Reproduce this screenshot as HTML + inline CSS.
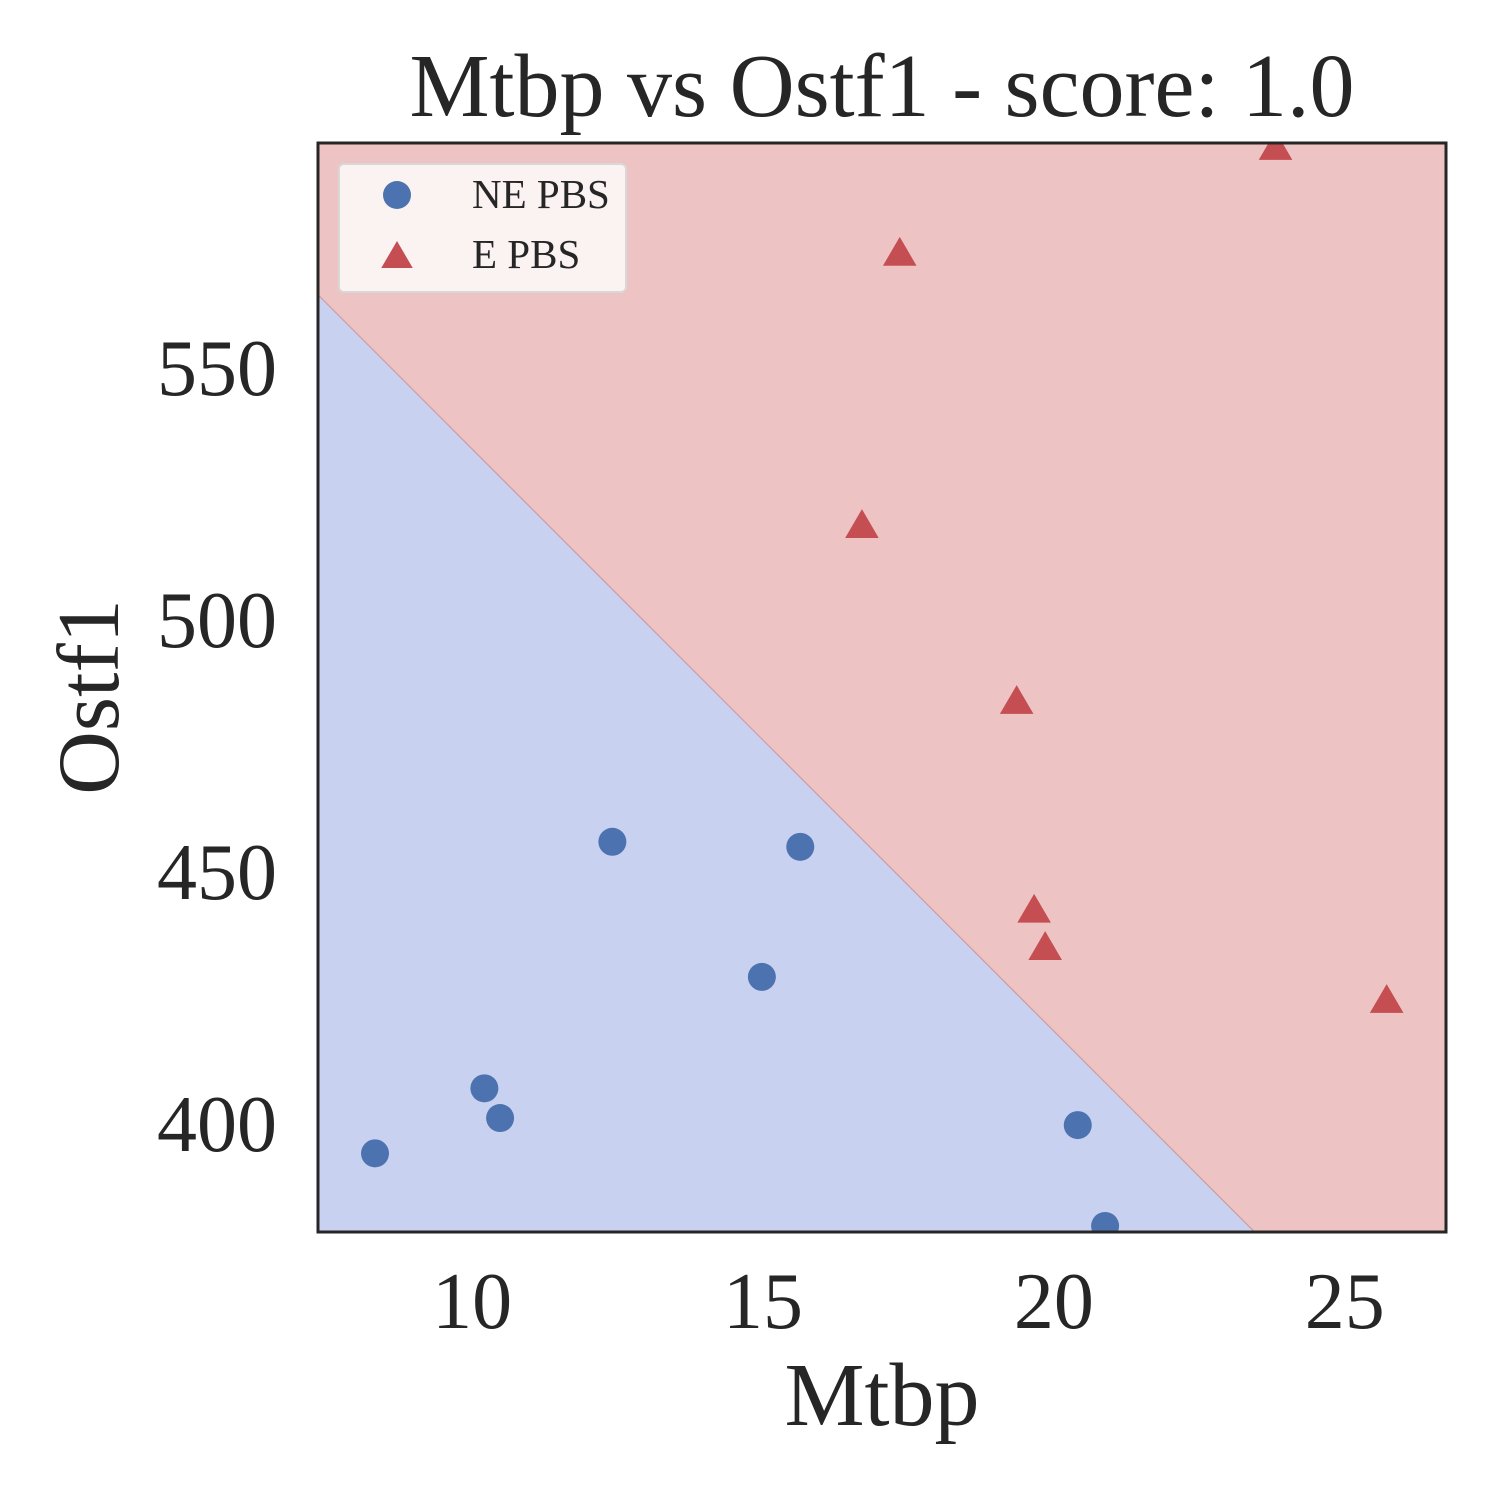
<!DOCTYPE html>
<html><head><meta charset="utf-8"><style>
html,body{margin:0;padding:0;background:#fff;}
svg{display:block;font-family:"Liberation Serif","DejaVu Serif",serif;}
</style></head><body>
<svg id="chart" width="1500" height="1500" viewBox="0 0 1500 1500" xmlns="http://www.w3.org/2000/svg"></svg>
<script>
const neX = [8.33, 10.21, 10.48, 12.41, 14.98, 15.64, 20.41, 20.88];
const neY = [394.2, 407.1, 401.2, 456.0, 429.2, 455.0, 399.8, 379.8];
const eX = [23.81, 17.35, 16.70, 19.36, 19.66, 19.85, 25.72];
const eY = [593.8, 572.8, 518.8, 483.9, 442.5, 435.1, 424.6];
const boundaryX = [7.35, 23.45];
const boundaryY = [564.5, 378.6];
const xTicks = [10, 15, 20, 25];
const yTicks = [400, 450, 500, 550];

const L=318,R=1446,T=143,B=1232;
const xMin=7.35,xMax=26.74,yMin=378.6,yMax=594.6;
const sx=v=>L+(v-xMin)/(xMax-xMin)*(R-L);
const sy=v=>B-(v-yMin)/(yMax-yMin)*(B-T);
const NS="http://www.w3.org/2000/svg";
const svg=document.getElementById('chart');
function mk(tag,attrs,parent){const e=document.createElementNS(NS,tag);for(const k in attrs)e.setAttribute(k,attrs[k]);(parent||svg).appendChild(e);return e;}

const defs=mk('defs',{});
const cp=mk('clipPath',{id:'clip'},defs);
mk('rect',{x:L,y:T,width:R-L,height:B-T},cp);

const g=mk('g',{'clip-path':'url(#clip)'});
const redBg=mk('rect',{x:L,y:T,width:R-L,height:B-T,fill:'#edc4c3'},g);


const x0=sx(boundaryX[0]),y0=sy(boundaryY[0]),x1=sx(boundaryX[1]),y1=sy(boundaryY[1]);
const blue=mk('polygon',{points:`${L},${B} ${L},${y0} ${x0},${y0} ${x1},${y1} ${x1},${B}`,fill:'#c9d1f0'},g);


const bl=mk('line',{x1:x0,y1:y0,x2:x1,y2:y1,stroke:'#d09aa0','stroke-width':1.2},g);



for(let i=0;i<neX.length;i++){
  const c=mk('circle',{cx:sx(neX[i]),cy:sy(neY[i]),r:14,fill:'#4c72b0'},g);
  
  
}
function tri(cx,cy,s,parent){return mk('polygon',{points:`${cx},${cy-s} ${cx+s*1.05},${cy+s*0.8} ${cx-s*1.05},${cy+s*0.8}`,fill:'#c44e52'},parent);}
for(let i=0;i<eX.length;i++){
  const t=tri(sx(eX[i]),sy(eY[i]),16,g);
  
  
}

const frame=mk('rect',{x:L,y:T,width:R-L,height:B-T,fill:'none',stroke:'#262626','stroke-width':3});



xTicks.forEach(v=>{
  const t=mk('text',{x:sx(v),y:1328,'font-size':80,'text-anchor':'middle',fill:'#262626'});
  t.textContent=v;
  
  
});
yTicks.forEach(v=>{
  const t=mk('text',{x:277,y:sy(v)+27,'font-size':80,'text-anchor':'end',fill:'#262626'});
  t.textContent=v;
  
  
});

const title=mk('text',{x:882,y:116,'font-size':90,'text-anchor':'middle',fill:'#262626'});
title.textContent='Mtbp vs Ostf1 - score: 1.0';


const xl=mk('text',{x:882,y:1425,'font-size':90,'text-anchor':'middle',fill:'#262626'});
xl.textContent='Mtbp';


const yl=mk('text',{x:0,y:0,'font-size':88,'text-anchor':'middle',fill:'#262626',transform:'translate(118,697) rotate(-90)'});
yl.textContent='Ostf1';



const lg=mk('g',{});


mk('rect',{x:339,y:164,width:287,height:128,rx:5,fill:'#fbf2f2',stroke:'#d8d8d8','stroke-width':2},lg);
mk('circle',{cx:397,cy:195,r:14,fill:'#4c72b0'},lg);
tri(397,256,15,lg);
const l1=mk('text',{x:472,y:208,'font-size':41,fill:'#262626'},lg);
l1.textContent='NE PBS';


const l2=mk('text',{x:472,y:268,'font-size':41,fill:'#262626'},lg);
l2.textContent='E PBS';


</script>
</body></html>
